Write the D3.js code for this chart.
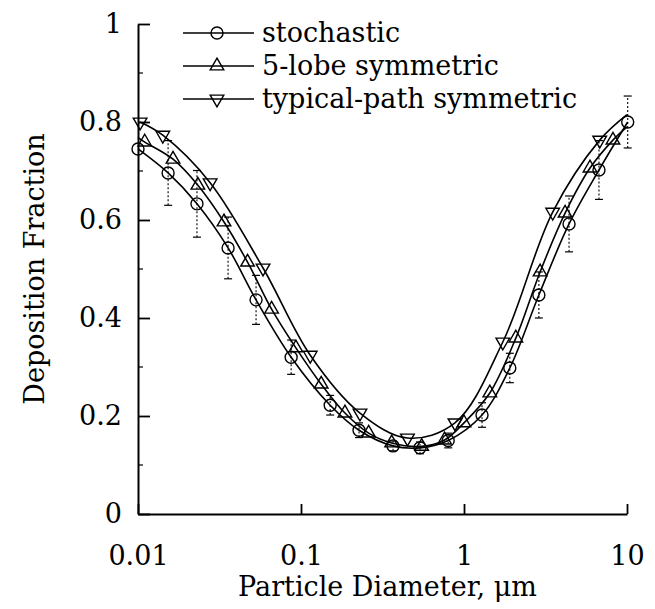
<!DOCTYPE html>
<html>
<head>
<meta charset="utf-8">
<script src="https://cdn.jsdelivr.net/npm/d3@7"></script>
<style>
  body { margin: 0; background: #fff; }
  svg text { font-family: "DejaVu Serif", serif; fill: #000; }
</style>
</head>
<body>
<svg id="chart"></svg>
<script>
// valores
const seriesNames = ["stochastic", "5-lobe symmetric", "typical-path symmetric"];

const stochD = [0.01, 0.0153, 0.023, 0.0357, 0.053, 0.087, 0.151, 0.227, 0.367, 0.537, 0.8, 1.29, 1.91, 2.88, 4.41, 6.73, 10.1];
const stochV = [0.745, 0.696, 0.633, 0.543, 0.437, 0.320, 0.222, 0.171, 0.139, 0.135, 0.150, 0.202, 0.298, 0.447, 0.592, 0.702, 0.800];
const stochErr = [0, 0.066, 0.068, 0.063, 0.05, 0.035, 0.02, 0.015, 0.01, 0.012, 0.015, 0.025, 0.03, 0.047, 0.057, 0.06, 0.053];

const lobeD = [0.011, 0.0164, 0.0233, 0.0337, 0.047, 0.066, 0.093, 0.133, 0.186, 0.26, 0.36, 0.55, 0.76, 1.0, 1.44, 2.08, 2.93, 4.17, 5.93, 8.2];
const lobeV = [0.759, 0.724, 0.671, 0.596, 0.514, 0.418, 0.339, 0.265, 0.206, 0.165, 0.145, 0.138, 0.151, 0.186, 0.247, 0.359, 0.494, 0.614, 0.706, 0.763];

const pathD = [0.0103, 0.0142, 0.0277, 0.0585, 0.114, 0.23, 0.45, 0.88, 1.73, 3.5, 6.8];
const pathV = [0.80, 0.773, 0.676, 0.502, 0.324, 0.206, 0.155, 0.186, 0.351, 0.616, 0.763];

// extremos de las curvas sin marcador
const lobeEndD = [0.01, 10];
const lobeEndV = [0.768, 0.79];
const pathEndD = [10];
const pathEndV = [0.815];

const xTicks = [0.01, 0.1, 1, 10];
const xTickLabels = ["0.01", "0.1", "1", "10"];
const yTicks = [0, 0.2, 0.4, 0.6, 0.8, 1];
const yTickLabels = ["0", "0.2", "0.4", "0.6", "0.8", "1"];
const yMinor = [0.1, 0.3, 0.5, 0.7, 0.9];

const W = 655, H = 609;
const mLeft = 138, mRight = 627, mTop = 24, mBottom = 514;

const svg = d3.select("#chart").attr("width", W).attr("height", H);

const x = d3.scaleLog().domain([0.01, 10]).range([mLeft, mRight]);
const y = d3.scaleLinear().domain([0, 1]).range([mBottom, mTop]);

// ejes
const gx = svg.append("g")
    .attr("transform", `translate(0,${mBottom})`)
    .call(d3.axisBottom(x).tickValues(xTicks)
        .tickFormat((d, i) => xTickLabels[i])
        .tickSizeInner(-10).tickSizeOuter(0).tickPadding(32));

const gy = svg.append("g")
    .attr("transform", `translate(${mLeft},0)`)
    .call(d3.axisLeft(y).tickValues(yTicks)
        .tickFormat((d, i) => yTickLabels[i])
        .tickSizeInner(-12).tickSizeOuter(0).tickPadding(16));

[gx, gy].forEach(g => {
    g.attr("font-family", null).attr("font-size", null);
    g.select(".domain").attr("stroke-width", 2);
    g.selectAll(".tick line").attr("stroke-width", 1.8);
    g.selectAll(".tick text").style("font-size", "27px");
});

// marcas menores
svg.append("g").selectAll("line").data(yMinor).enter().append("line")
    .attr("x1", mLeft).attr("x2", mLeft + 5)
    .attr("y1", d => y(d)).attr("y2", d => y(d))
    .attr("stroke", "#000").attr("stroke-width", 1.2);

// titulos
svg.append("text")
    .attr("x", (mLeft + mRight) / 2 + 5).attr("y", 596)
    .attr("text-anchor", "middle").style("font-size", "27px")
    .text("Particle Diameter, \u03bcm");

svg.append("text")
    .attr("transform", `translate(44,${(mTop + mBottom) / 2}) rotate(-90)`)
    .attr("text-anchor", "middle").style("font-size", "27px")
    .text("Deposition Fraction");

// curvas
const line = d3.line()
    .x(d => x(d[0])).y(d => y(d[1]))
    .curve(d3.curveCatmullRom.alpha(0.5));

const series = [
    { d: stochD, v: stochV, sym: "circle", ed: [], ev: [] },
    { d: lobeD, v: lobeV, sym: "up", ed: lobeEndD, ev: lobeEndV },
    { d: pathD, v: pathV, sym: "down", ed: pathEndD, ev: pathEndV }
];

// barras de error (solo estocastico)
const eb = svg.append("g");
stochD.forEach((d, i) => {
    if (!stochErr[i]) return;
    const cx = x(d), y1 = y(stochV[i] - stochErr[i]), y2 = y(stochV[i] + stochErr[i]);
    eb.append("line").attr("x1", cx).attr("x2", cx).attr("y1", y1).attr("y2", y2)
        .attr("stroke", "#000").attr("stroke-width", 1.1).attr("stroke-dasharray", "2,2");
    [y1, y2].forEach(yy => eb.append("line")
        .attr("x1", cx - 4).attr("x2", cx + 4).attr("y1", yy).attr("y2", yy)
        .attr("stroke", "#000").attr("stroke-width", 1.2));
});

series.forEach(s => {
    const pts = s.d.map((d, i) => [d, s.v[i]])
        .concat(s.ed.map((d, i) => [d, s.ev[i]]))
        .sort((a, b) => a[0] - b[0]);
    svg.append("path").datum(pts)
        .attr("d", line).attr("fill", "none")
        .attr("stroke", "#000").attr("stroke-width", 1.6);
});

function drawMarker(g, sym, cx, cy) {
    if (sym === "circle") {
        g.append("circle").attr("cx", cx).attr("cy", cy).attr("r", 6)
            .attr("fill", "none").attr("stroke", "#000").attr("stroke-width", 1.4);
    } else {
        g.append("path")
            .attr("d", d3.symbol().type(d3.symbolTriangle).size(80)())
            .attr("transform", `translate(${cx},${cy})` + (sym === "down" ? " rotate(180)" : ""))
            .attr("fill", "none").attr("stroke", "#000").attr("stroke-width", 1.4);
    }
}

series.forEach(s => {
    const g = svg.append("g");
    s.d.forEach((d, i) => drawMarker(g, s.sym, x(d), y(s.v[i])));
});

// leyenda
const legend = svg.append("g");
seriesNames.forEach((name, i) => {
    const ly = 33 + i * 33;
    legend.append("line").attr("x1", 183).attr("x2", 254)
        .attr("y1", ly).attr("y2", ly)
        .attr("stroke", "#000").attr("stroke-width", 1.3);
    drawMarker(legend, series[i].sym, 217, ly);
    legend.append("text").attr("x", 262).attr("y", ly)
        .attr("dy", "0.35em").style("font-size", "27px")
        .text(name);
});
</script>
</body>
</html>
